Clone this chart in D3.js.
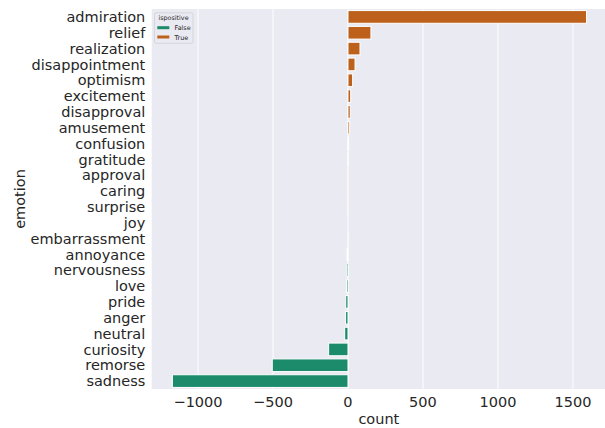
<!DOCTYPE html>
<html><head><meta charset="utf-8">
<script src="https://cdn.jsdelivr.net/npm/d3@7"></script>
<style>body{margin:0;background:#fff}svg{display:block}text{font-family:"DejaVu Sans",sans-serif;fill:#262626}</style>
</head><body>
<svg id="c" width="605" height="428"></svg>
<script>
const emotions = ["admiration","relief","realization","disappointment","optimism","excitement","disapproval","amusement","confusion","gratitude","approval","caring","surprise","joy","embarrassment","annoyance","nervousness","love","pride","anger","neutral","curiosity","remorse","sadness"];
const counts = [1591,153,80,47,31,18,15,11,4,3,2,1,1,0,-1,-6,-8,-10,-15,-16,-22,-129,-505,-1171];
const xTicks = [-1000,-500,0,500,1000,1500];
const hueLabels = ["False","True"];
const hueColors = ["#1b8b6b","#bd601c"];

const svg = d3.select("#c");
const L=151.7, R=605, T=9, B=389;
const FS = 14.5;
const x = d3.scaleLinear().domain([-1309,1714]).range([L,R]);
const y = d3.scaleBand().domain(emotions).range([T,B]).paddingInner(0.2).paddingOuter(0.1);

svg.append("rect").attr("x",L).attr("y",T).attr("width",R-L).attr("height",B-T).attr("fill","#eaeaf2");
svg.append("g").selectAll("line").data(xTicks).join("line")
  .attr("x1",d=>x(d)).attr("x2",d=>x(d)).attr("y1",T).attr("y2",B)
  .attr("stroke","#fff").attr("stroke-width",1);

svg.append("g").selectAll("rect").data(emotions).join("rect")
  .attr("x",(d,i)=>Math.min(x(0),x(counts[i])))
  .attr("width",(d,i)=>Math.abs(x(counts[i])-x(0)))
  .attr("y",d=>y(d)).attr("height",y.bandwidth())
  .attr("fill",(d,i)=>counts[i]>0?hueColors[1]:hueColors[0])
  .attr("stroke","#fff").attr("stroke-width",1);

// y labels
svg.append("g").selectAll("text").data(emotions).join("text")
  .attr("x",145.3).attr("y",d=>y(d)+y.bandwidth()/2).attr("dy","0.36em")
  .attr("text-anchor","end").attr("font-size",FS).text(d=>d);
// x labels
svg.append("g").selectAll("text").data(xTicks).join("text")
  .attr("x",d=>x(d)).attr("y",407).attr("text-anchor","middle").attr("font-size",FS)
  .text(d=>d3.format("")(d).replace("-","\u2212"));
svg.append("text").attr("x",(L+R)/2+0.5).attr("y",424).attr("text-anchor","middle").attr("font-size",FS).text("count");
svg.append("text").attr("transform",`translate(25,${(T+B)/2}) rotate(-90)`).attr("text-anchor","middle").attr("font-size",FS).text("emotion");

// legend
const lg = svg.append("g");
lg.append("rect").attr("x",154.5).attr("y",12.8).attr("width",38.5).attr("height",30.5).attr("rx",1.5)
  .attr("fill","#eaeaf2").attr("stroke","#cfcfd6").attr("stroke-width",0.8);
lg.append("text").attr("x",173.5).attr("y",20.3).attr("text-anchor","middle").attr("font-size",6.4).text("ispositive");
hueLabels.forEach((h,i)=>{
  lg.append("rect").attr("x",157.3).attr("y",26.2+i*9.3).attr("width",12).attr("height",3).attr("fill",hueColors[i]);
  lg.append("text").attr("x",174.6).attr("y",30.4+i*9.3).attr("font-size",6.4).text(h);
});
</script>
</body></html>
